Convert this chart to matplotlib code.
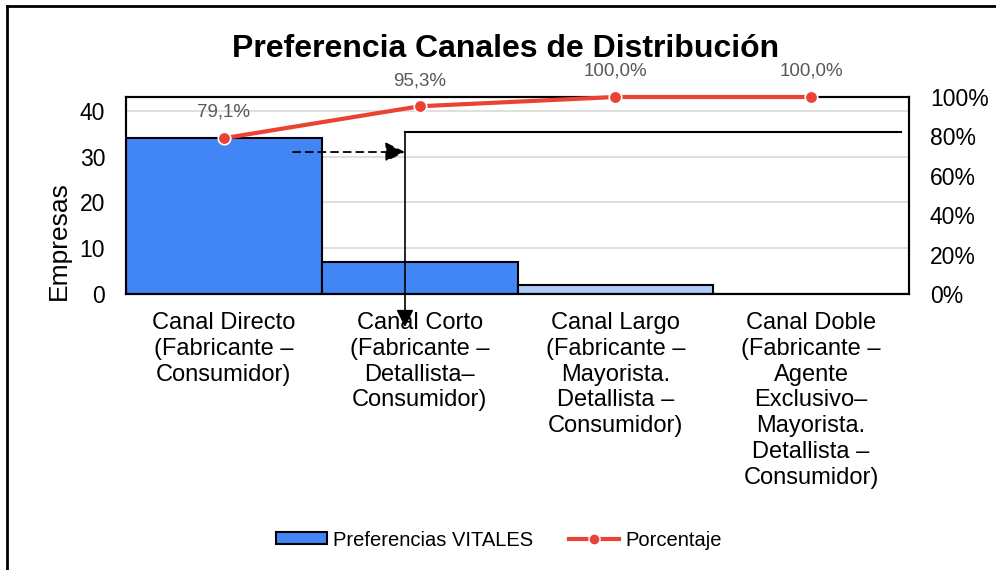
import matplotlib
matplotlib.use("Agg")
import matplotlib.pyplot as plt
from matplotlib.lines import Line2D
from matplotlib.patches import Patch

plt.rcParams["font.family"] = ["Liberation Sans", "DejaVu Sans"]

# --- data ---
categorias = [
    "Canal Directo\n(Fabricante \u2013\nConsumidor)",
    "Canal Corto\n(Fabricante \u2013\nDetallista\u2013\nConsumidor)",
    "Canal Largo\n(Fabricante \u2013\nMayorista.\nDetallista \u2013\nConsumidor)",
    "Canal Doble\n(Fabricante \u2013\nAgente\nExclusivo\u2013\nMayorista.\nDetallista \u2013\nConsumidor)",
]
empresas = [34, 7, 2, 0]
porcentaje = [0.791, 0.953, 1.000, 1.000]
etiquetas_pct = ["79,1%", "95,3%", "100,0%", "100,0%"]
colores_barra = ["#4285F4", "#4285F4", "#AFCBFA", "#4285F4"]

total = sum(empresas)

fig = plt.figure(figsize=(9.96, 5.70), dpi=100)
ax = fig.add_axes([0.1265, 0.4842, 0.7862, 0.3456])
ax2 = ax.twinx()

x = list(range(len(categorias)))
ax.bar(x, empresas, width=1.0, color=colores_barra, edgecolor="black",
       linewidth=1.5, zorder=2)
ax.set_xlim(-0.5, len(categorias) - 0.5)
ax.set_ylim(0, total)
ax.set_yticks([0, 10, 20, 30, 40])
ax.yaxis.grid(True, color="#D9D9D9", lw=1.2, zorder=0)
ax.set_axisbelow(True)
ax.set_xticks(x)
ax.set_xticklabels(categorias, fontsize=17, linespacing=1.22)
ax.tick_params(axis="x", length=0, pad=13)
ax.tick_params(axis="y", length=0, pad=15, labelsize=16.5)
ax.set_ylabel("Empresas", fontsize=19)
ax.yaxis.set_label_coords(-0.071, 0.27)

ax2.set_ylim(0, 1)
ax2.set_yticks([0, 0.2, 0.4, 0.6, 0.8, 1.0])
ax2.set_yticklabels(["0%", "20%", "40%", "60%", "80%", "100%"])
ax2.tick_params(axis="y", length=0, pad=15, labelsize=16.5)
ax2.plot(x, porcentaje, color="#EA4335", lw=3, marker="o", ms=9,
         markerfacecolor="#EA4335", markeredgecolor="white", markeredgewidth=1.2,
         clip_on=False, zorder=5)
for xi, p, t in zip(x, porcentaje, etiquetas_pct):
    ax2.annotate(t, (xi, p), xytext=(0, 18.5), textcoords="offset points",
                 ha="center", va="center", fontsize=13.5, color="#595959")

for a in (ax, ax2):
    for s in a.spines.values():
        s.set_color("black")
        s.set_linewidth(1.5)

# callout lines drawn on the chart
ax.annotate("", xy=(0.3563, 0.7208), xytext=(0.2133, 0.7208), xycoords="axes fraction",
            arrowprops=dict(arrowstyle="-|>", ls=(0, (4, 3)), lw=1.3, color="black",
                            mutation_scale=30, shrinkA=0, shrinkB=0),
            annotation_clip=False)
ax.annotate("", xy=(0.3563, -0.1675), xytext=(0.3563, 0.8223), xycoords="axes fraction",
            arrowprops=dict(arrowstyle="-|>", lw=1.2, color="black",
                            mutation_scale=26, shrinkA=0, shrinkB=0),
            annotation_clip=False)
ax.plot([0.3563, 0.9898], [0.8223, 0.8223], transform=ax.transAxes,
        color="black", lw=1.5, clip_on=False, zorder=4)

fig.text(506 / 996, 1 - 57 / 570, "Preferencia Canales de Distribuci\u00f3n",
         ha="center", va="baseline", fontsize=23, fontweight="bold")

handles = [
    Patch(facecolor="#4285F4", edgecolor="black", linewidth=1.5, label="Preferencias VITALES"),
    Line2D([0], [0], color="#EA4335", lw=3, marker="o", ms=8,
           markerfacecolor="#EA4335", markeredgecolor="white", label="Porcentaje"),
]
fig.legend(handles=handles, loc="center", bbox_to_anchor=(499 / 996, 1 - 540 / 570),
           ncol=2, frameon=False, fontsize=14.5, handlelength=2.5, handleheight=0.55,
           handletextpad=0.3, columnspacing=1.8, numpoints=1)

# outer frame (left and top edges visible)
fig.add_artist(Line2D([7 / 996, 7 / 996], [0, 1 - 6 / 570], color="black", lw=2))
fig.add_artist(Line2D([7 / 996, 1], [1 - 6 / 570, 1 - 6 / 570], color="black", lw=2))

fig.savefig("out.png", dpi=100)
